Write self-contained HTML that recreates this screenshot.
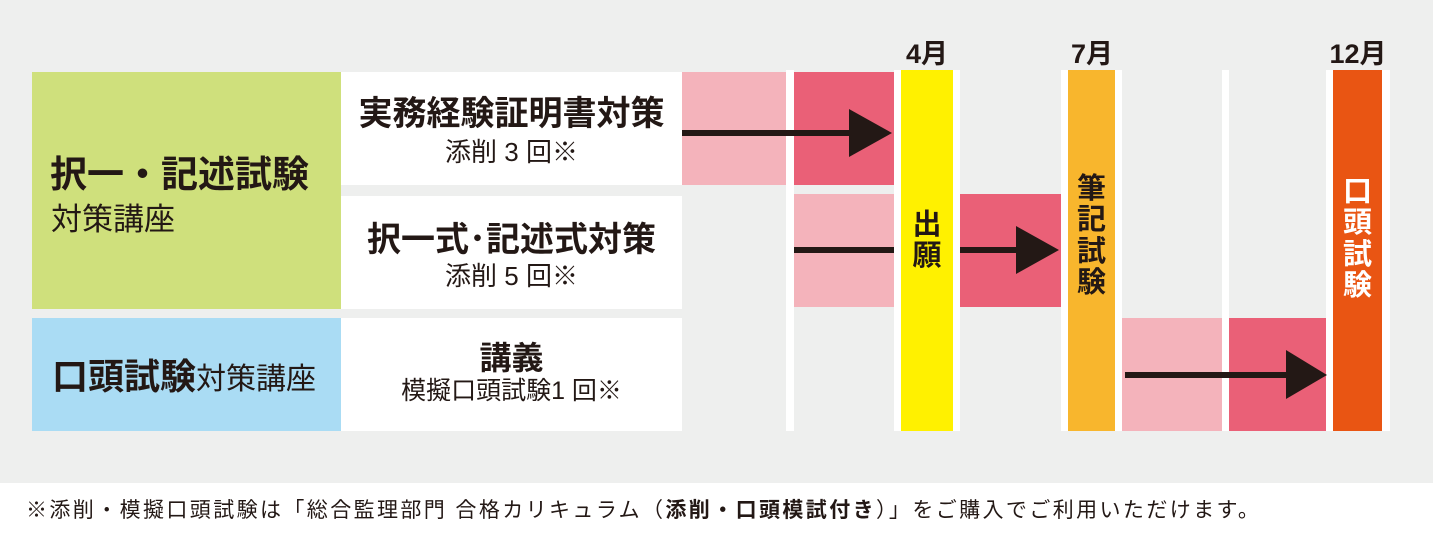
<!DOCTYPE html>
<html><head><meta charset="utf-8"><style>
body{margin:0;width:1433px;height:539px;position:relative;background:#fff;font-family:"Liberation Sans","Noto Sans CJK JP",sans-serif;color:#231815;overflow:hidden}
div{position:absolute;box-sizing:border-box}
.c{display:flex;flex-direction:column;align-items:center;justify-content:center;text-align:center}
.b{font-weight:bold}
.v{display:flex;flex-direction:column;align-items:center;font-weight:bold;line-height:1.08}
</style></head><body>
<div style="left:0;top:0;width:1433px;height:483px;background:#eeefee"></div>
<!-- left -->
<div style="left:32px;top:72px;width:309px;height:237px;background:#cfe07c"></div>
<div class="b" style="left:50px;top:144px;font-size:37px;white-space:nowrap">択一・記述試験</div>
<div style="left:51px;top:194px;font-size:31px;white-space:nowrap">対策講座</div>
<div style="left:32px;top:318px;width:309px;height:113px;background:#aadcf4"></div>
<div style="left:52px;top:348px;white-space:nowrap"><span class="b" style="font-size:36px">口頭試験</span><span style="font-size:30px">対策講座</span></div>
<div class="c" style="left:341px;top:72px;width:341px;height:113px;background:#fff;padding-top:8px"><div style="position:static;font-size:34px;font-weight:bold;line-height:1.15">実務経験証明書対策</div><div style="position:static;font-size:26px;line-height:1.35">添削 3 回※</div></div>
<div class="c" style="left:341px;top:196px;width:341px;height:113px;background:#fff;padding-top:8px"><div style="position:static;font-size:34px;font-weight:bold;line-height:1.15">択一式･記述式対策</div><div style="position:static;font-size:26px;line-height:1.25">添削 5 回※</div></div>
<div class="c" style="left:341px;top:318px;width:341px;height:113px;background:#fff"><div style="position:static;font-size:32px;font-weight:bold;line-height:1.1">講義</div><div style="position:static;font-size:25px;line-height:1.25">模擬口頭試験1 回※</div></div>
<!-- white columns -->
<div style="left:786px;top:70px;width:8px;height:361px;background:#fff"></div>
<div style="left:894px;top:70px;width:66px;height:361px;background:#fff"></div>
<div style="left:1061px;top:70px;width:61px;height:361px;background:#fff"></div>
<div style="left:1222px;top:70px;width:7px;height:361px;background:#fff"></div>
<div style="left:1326px;top:70px;width:64px;height:361px;background:#fff"></div>
<!-- blocks -->
<div style="left:682px;top:72px;width:104px;height:113px;background:#f4b3bb"></div>
<div style="left:794px;top:72px;width:100px;height:113px;background:#ea6077"></div>
<div style="left:794px;top:194px;width:100px;height:113px;background:#f4b3bb"></div>
<div style="left:960px;top:194px;width:101px;height:113px;background:#ea6077"></div>
<div style="left:1122px;top:318px;width:100px;height:113px;background:#f4b3bb"></div>
<div style="left:1229px;top:318px;width:97px;height:113px;background:#ea6077"></div>
<!-- bars -->
<div style="left:901px;top:70px;width:52px;height:361px;background:#fff100"></div>
<div style="left:1068px;top:70px;width:47px;height:361px;background:#f8b62d"></div>
<div style="left:1333px;top:70px;width:49px;height:361px;background:#e95513"></div>
<div class="v" style="left:901px;top:210px;width:52px;font-size:29px">出<span>願</span></div>
<div class="v" style="left:1068px;top:174px;width:47px;font-size:29px">筆<span>記</span><span>試</span><span>験</span></div>
<div class="v" style="left:1333px;top:177px;width:49px;font-size:29px;color:#fff">口<span>頭</span><span>試</span><span>験</span></div>
<!-- months -->
<div class="b" style="left:896px;top:32px;width:62px;text-align:center;font-size:27px">4月</div>
<div class="b" style="left:1060px;top:32px;width:64px;text-align:center;font-size:27px">7月</div>
<div class="b" style="left:1318px;top:32px;width:80px;text-align:center;font-size:27px">12月</div>
<!-- arrows -->
<svg style="position:absolute;left:0;top:0" width="1433" height="539">
<g fill="#231815">
<rect x="682" y="130" width="170" height="6"/><polygon points="849,109 892,133 849,157"/>
<rect x="794" y="247" width="100" height="6"/>
<rect x="960" y="247" width="58" height="6"/><polygon points="1016,226 1059,250 1016,274"/>
<rect x="1125" y="372" width="163" height="6"/><polygon points="1286,350 1327,375 1286,399"/>
</g></svg>
<div style="left:26px;top:494px;font-size:21px;letter-spacing:2.4px;white-space:nowrap">※添削・模擬口頭試験は「総合監理部門 合格カリキュラム（<b>添削・口頭模試付き</b>）」をご購入でご利用いただけます。</div>
</body></html>
